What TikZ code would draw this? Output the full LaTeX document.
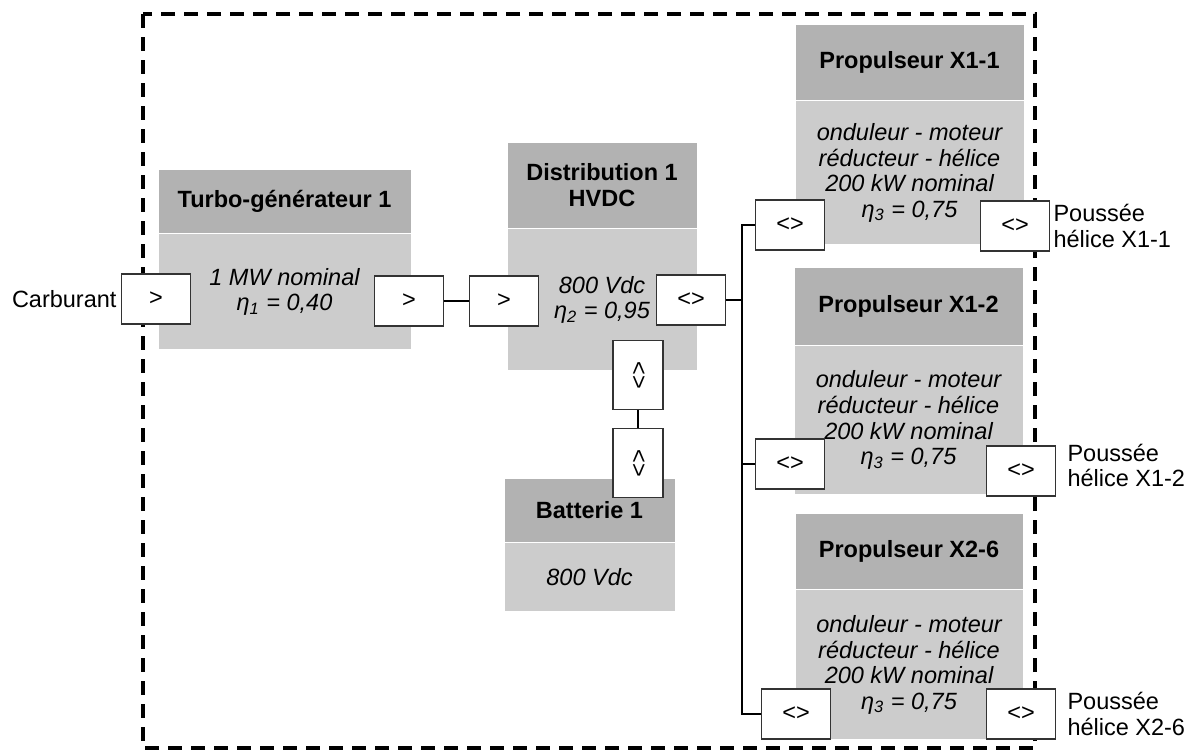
\documentclass[tikz,border=0pt]{standalone}
\usepackage{fontspec}
\setmainfont{Liberation Sans}
\usetikzlibrary{positioning}
\newcommand{\boxfont}{\fontsize{11.75pt}{12.8pt}\selectfont}
\tikzstyle{header} = [
    rectangle,
    inner sep=0pt,
    text centered, align=center, font=\boxfont\bfseries,
    draw=white, line width=0.4pt, fill=gray!60
]
\tikzstyle{body} = [
    rectangle,
    inner sep=0pt,
    text centered, align=center, font=\boxfont\itshape,
    draw=white, line width=0.4pt, fill=gray!40
]
\tikzstyle{port} = [
    rectangle,
    minimum width=34.5pt, minimum height=25pt, inner sep=0pt,
    text centered, font=\boxfont,
    draw=black!80, line width=0.6pt, fill=white
]
\tikzstyle{txt} = [align=left, inner sep=1.5pt, font=\boxfont]
\tikzstyle{wire} = [line width=1.1pt]
\tikzstyle{frame} = [line width=2pt, dash pattern=on 7pt off 4.5pt]

\begin{document}
\begin{tikzpicture}[x=0.5pt, y=-0.5pt]
        \useasboundingbox (0,0) rectangle (1192,751);
        % Draw frame
        \draw [frame] (143,14) rectangle (1035,748);

        % Draw blocks
        \node (turbohead) [header, minimum width=126.5pt, minimum height=32pt] at (284.5,201) {Turbo-générateur 1};
        \node (turbo) [body, below=0pt of turbohead, minimum width=126.5pt, minimum height=58pt] {1 MW nominal\\η\textsubscript{1} = 0,40};
        \node (disthead) [header, minimum width=95pt, minimum height=43pt] at (602,185) {Distribution 1\\HVDC};
        \node (dist) [body, below=0pt of disthead, minimum width=95pt, minimum height=71pt] {800 Vdc\\η\textsubscript{2} = 0,95};
        \node (bathead) [header, minimum width=85.5pt, minimum height=32pt] at (589.5,510) {Batterie 1};
        \node (bat) [body, below=0pt of bathead, minimum width=85.5pt, minimum height=34.5pt] {800 Vdc};
        \node (prop1head) [header, minimum width=114.5pt, minimum height=38pt] at (909.5,62) {Propulseur X1-1};
        \node (prop1) [body, below=0pt of prop1head, minimum width=114.5pt, minimum height=72pt] {onduleur - moteur\\réducteur - hélice\\200 kW nominal\\η\textsubscript{3} = 0,75};
        \node (prop2head) [header, minimum width=114.5pt, minimum height=39pt] at (908.5,306) {Propulseur X1-2};
        \node (prop2) [body, below=0pt of prop2head, minimum width=114.5pt, minimum height=74.5pt] {onduleur - moteur\\réducteur - hélice\\200 kW nominal\\η\textsubscript{3} = 0,75};
        \node (prop3head) [header, minimum width=114pt, minimum height=38pt] at (909,551) {Propulseur X2-6};
        \node (prop3) [body, below=0pt of prop3head, minimum width=114pt, minimum height=75pt] {onduleur - moteur\\réducteur - hélice\\200 kW nominal\\η\textsubscript{3} = 0,75};

        % Draw ports
        \node (carbin) [port] at (156,299) {>};
        \node (turboout) [port] at (409,301) {>};
        \node (distin) [port] at (504,301) {>};
        \node (distout) [port] at (691,300) {<>};
        \node (distbat) [port, rotate=-90] at (638,375) {<>};
        \node (batdist) [port, rotate=-90] at (638,463) {<>};
        \node (prop1in) [port] at (790,225) {<>};
        \node (prop1out) [port] at (1015,226) {<>};
        \node (prop2in) [port] at (790,464) {<>};
        \node (prop2out) [port] at (1021,471) {<>};
        \node (prop3in) [port] at (796,714) {<>};
        \node (prop3out) [port] at (1021,714) {<>};
        \coordinate (bus) at (742,300);

        % Draw labels
        \node (carburant) [txt, left=0.5pt of carbin] {Carburant};
        \node (thrust1) [txt, right=0pt of prop1out] {Poussée\\hélice X1-1};
        \node (thrust2) [txt, right=4pt of prop2out, yshift=2.75pt] {Poussée\\hélice X1-2};
        \node (thrust3) [txt, right=4pt of prop3out] {Poussée\\hélice X2-6};

        % Draw wires
        \draw [wire] (turboout) -- (distin);
        \draw [wire] (distout) -- (bus);
        \draw [wire] (prop1in.west) -| (bus);
        \draw [wire] (prop2in.west) -| (bus);
        \draw [wire] (prop3in.west) -| (bus);
        \draw [wire] (distbat) -- (batdist);
    \end{tikzpicture}
\end{document}
